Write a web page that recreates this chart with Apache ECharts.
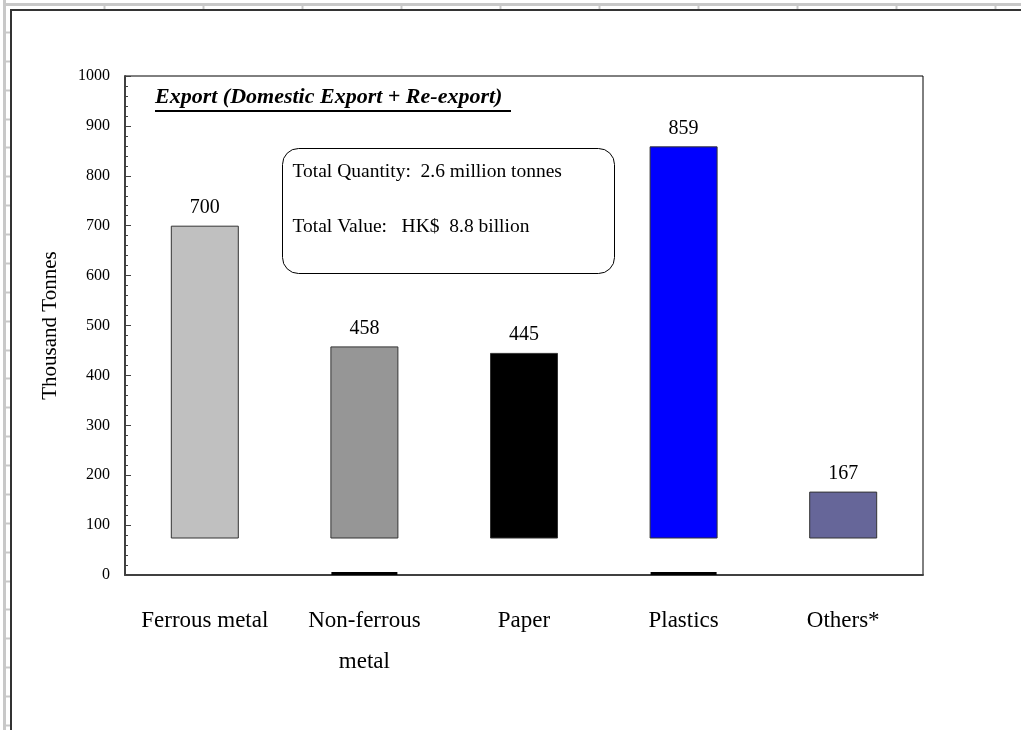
<!DOCTYPE html>
<html>
<head>
<meta charset="utf-8">
<title>Export (Domestic Export + Re-export)</title>
<script src="https://cdn.jsdelivr.net/npm/echarts@6/dist/echarts.min.js"></script>
<style>
  html, body { margin: 0; padding: 0; background: #fff; }
  #chart { width: 1021px; height: 730px; }
</style>
</head>
<body>
<div id="chart"></div>
<script>
// values (thousand tonnes)
const categories = ['Ferrous metal', 'Non-ferrous\nmetal', 'Paper', 'Plastics', 'Others*'];
const exportQty = [700, 458, 445, 859, 167];
const smallQty = [null, 6, null, 6, null];
const yMin = 0;
const yMax = 1000;
const yStep = 100;

const barColors = ['#C0C0C0', '#969696', '#000000', '#0000FF', '#666699'];
const serif = '"Liberation Serif", "Times New Roman", serif';

// spreadsheet cell borders behind the chart
const sheetLines = [];
for (let y = 32; y < 730; y += 28.87) {
  sheetLines.push({ type: 'line', silent: true, shape: { x1: 4, y1: Math.round(y) + 0.5, x2: 10, y2: Math.round(y) + 0.5 }, style: { stroke: '#c8c8c8', lineWidth: 2 } });
}
for (let x = 104; x < 1021; x += 99) {
  sheetLines.push({ type: 'line', silent: true, shape: { x1: Math.round(x) + 0.5, y1: 4, x2: Math.round(x) + 0.5, y2: 9 }, style: { stroke: '#c8c8c8', lineWidth: 2 } });
}

const chart = echarts.init(document.getElementById('chart'), null, { renderer: 'canvas' });
const option = {
  animation: false,
  backgroundColor: '#fff',
  title: {
    text: 'Export (Domestic Export + Re-export)',
    left: 155,
    top: 86,
    padding: 0,
    textStyle: {
      fontFamily: serif,
      fontStyle: 'italic',
      fontWeight: 'bold',
      fontSize: 22,
      color: '#000'
    }
  },
  graphic: [
    ...sheetLines,
    { type: 'line', silent: true, shape: { x1: 4.5, y1: 0, x2: 4.5, y2: 730 }, style: { stroke: '#c8c8c8', lineWidth: 3 } },
    { type: 'line', silent: true, shape: { x1: 3, y1: 4.5, x2: 1021, y2: 4.5 }, style: { stroke: '#c8c8c8', lineWidth: 3 } },
    { type: 'line', silent: true, shape: { x1: 11, y1: 9, x2: 11, y2: 730 }, style: { stroke: '#333', lineWidth: 2 } },
    { type: 'line', silent: true, shape: { x1: 10, y1: 10, x2: 1021, y2: 10 }, style: { stroke: '#333', lineWidth: 2 } },
    // title underline
    { type: 'line', silent: true, shape: { x1: 155, y1: 111, x2: 511, y2: 111 }, style: { stroke: '#000', lineWidth: 2 } },
    // summary box
    {
      type: 'group',
      left: 282,
      top: 148,
      children: [
        { type: 'rect', shape: { x: 0, y: 0, width: 332, height: 125, r: 16 }, style: { fill: '#fff', stroke: '#000', lineWidth: 1 } },
        { type: 'text', x: 10, y: 23, style: { text: 'Total Quantity:  2.6 million tonnes', font: '19.5px ' + serif, fill: '#000', verticalAlign: 'middle' } },
        { type: 'text', x: 10, y: 78, style: { text: 'Total Value:   HK$  8.8 billion', font: '19.5px ' + serif, fill: '#000', verticalAlign: 'middle' } }
      ]
    }
  ],
  grid: [
    { left: 125, top: 76, width: 798, height: 499, show: true, borderColor: '#000', borderWidth: 1, backgroundColor: 'transparent' },
    { left: 125, top: 76, width: 798, height: 462, show: false }
  ],
  xAxis: [
    {
      type: 'category',
      gridIndex: 0,
      data: categories,
      axisLine: { lineStyle: { color: '#404040', width: 2 } },
      axisTick: { inside: true, length: 6, lineStyle: { color: '#404040', width: 1 } },
      axisLabel: {
        color: '#000',
        fontFamily: serif,
        fontSize: 23,
        margin: 25,
        lineHeight: 41,
        interval: 0
      }
    },
    {
      type: 'category',
      gridIndex: 1,
      data: categories,
      show: false
    }
  ],
  yAxis: [
    {
      type: 'value',
      gridIndex: 0,
      min: yMin,
      max: yMax,
      interval: yStep,
      name: 'Thousand Tonnes',
      nameLocation: 'middle',
      nameRotate: 90,
      nameGap: 64,
      nameTextStyle: { color: '#000', fontFamily: serif, fontSize: 21 },
      axisLine: { show: true, lineStyle: { color: '#404040', width: 2 } },
      axisTick: { show: true, inside: true, length: 6, lineStyle: { color: '#404040' } },
      minorTick: { show: true, splitNumber: 5, length: 3, lineStyle: { color: '#404040' } },
      splitLine: { show: false },
      axisLabel: {
        color: '#000',
        fontFamily: serif,
        fontSize: 16,
        margin: 15,
        formatter: v => String(v)
      }
    },
    {
      // bars in the picture stand on a floor a little above zero
      type: 'value',
      gridIndex: 1,
      min: 74,
      max: yMax,
      show: false,
      splitLine: { show: false }
    }
  ],
  series: [
    {
      name: 'Export',
      type: 'bar',
      xAxisIndex: 1,
      yAxisIndex: 1,
      barWidth: 68,
      data: exportQty.map((v, i) => ({
        value: v,
        itemStyle: { color: barColors[i] }
      })),
      itemStyle: { borderColor: '#333', borderWidth: 1 },
      label: {
        show: true,
        position: 'top',
        distance: 8,
        color: '#000',
        fontFamily: serif,
        fontSize: 20
      }
    },
    {
      name: 'Minor',
      type: 'bar',
      xAxisIndex: 0,
      yAxisIndex: 0,
      barWidth: 66,
      data: smallQty,
      itemStyle: { color: '#000' }
    }
  ]
};
chart.setOption(option);
</script>
</body>
</html>
